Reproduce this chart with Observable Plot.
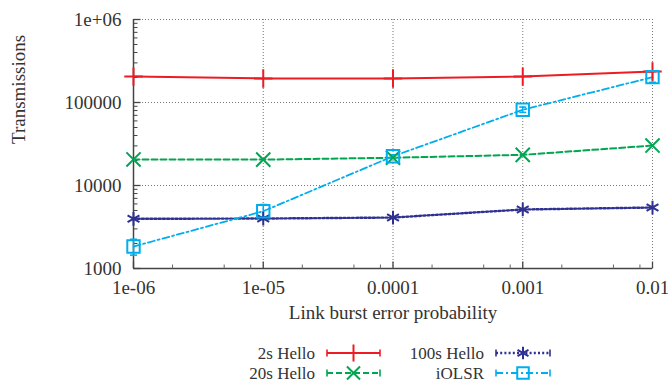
<!DOCTYPE html>
<html>
<head>
<meta charset="utf-8">
<script src="https://cdn.jsdelivr.net/npm/d3@7"></script>
<script src="https://cdn.jsdelivr.net/npm/@observablehq/plot@0.6"></script>
<style>
  body { margin: 0; background: #fff; }
  #chart { width: 668px; font-family: "Liberation Serif", "DejaVu Serif", serif; }
  #chart svg { display: block; }
</style>
</head>
<body>
<div id="chart"></div>
<script>
// Link burst error probabilities (x) and tick labels
const probabilities = [1e-6, 1e-5, 1e-4, 1e-3, 1e-2];
const xTickLabels = ["1e-06", "1e-05", "0.0001", "0.001", "0.01"];
const xMinorFactors = [2, 5, 8];
const yTicks = [1000, 10000, 100000, 1000000];
const yTickLabels = ["1000", "10000", "100000", "1e+06"];

// Transmissions per series
const seriesNames = ["2s Hello", "20s Hello", "100s Hello", "iOLSR"];
const hello2s = [205000, 195000, 195000, 205000, 236000];
const hello20s = [20600, 20500, 21600, 23400, 30300];
const hello100s = [3970, 4000, 4110, 5140, 5430];
const iolsr = [1840, 4900, 22500, 81700, 202000];
const iolsrLow = [1450, 4200, 21600, 76000, 175000];
const iolsrHigh = [2250, 5900, 23500, 88000, 235000];

const seriesValues = [hello2s, hello20s, hello100s, iolsr];
const colors = ["#ed1c24", "#00a651", "#2e3192", "#00aeef"];
const symbols = ["plus", "times", "asterisk", "square"];
const dashes = ["none", "6,3", "2,2.2", "7,3,2,3"];
const widths = [2, 2, 2.4, 1.8];
const radii = [6, 6.5, 6.5, 7];

const rows = seriesNames.flatMap((name, s) =>
  probabilities.map((p, i) => ({series: name, s, p, v: seriesValues[s][i]})));
const errRows = probabilities.map((p, i) => ({p, lo: iolsrLow[i], hi: iolsrHigh[i]}));
const xTickRows = probabilities.map((p, i) => ({p, label: xTickLabels[i]}));
const yTickRows = yTicks.map((v, i) => ({v, label: yTickLabels[i]}));

const yMinor = [];
for (const base of [1000, 10000, 100000]) for (let k = 2; k <= 9; k++) yMinor.push(base * k);
const xMinor = [];
for (const base of [1e-6, 1e-5, 1e-4, 1e-3]) for (const k of xMinorFactors) xMinor.push(base * k);

// small line symbols used for axis ticks and error-bar caps
const tickSym = len => ({draw(ctx) { ctx.moveTo(0, 0); ctx.lineTo(0, -len); }});
const hTickSym = len => ({draw(ctx) { ctx.moveTo(0, 0); ctx.lineTo(len, 0); }});
const capSym = w => ({draw(ctx) { ctx.moveTo(-w, 0); ctx.lineTo(w, 0); }});

const axisColor = "#444";
const textColor = "#333";
const fontSize = 19;
const legendFontSize = 17;

const chart = Plot.plot({
  width: 668,
  height: 330,
  marginLeft: 133,
  marginRight: 16,
  marginTop: 19,
  marginBottom: 62,
  style: {fontFamily: "Liberation Serif, serif", fontSize: fontSize + "px", color: textColor, background: "#fff"},
  x: {type: "log", domain: [1e-6, 1e-2], axis: null},
  y: {type: "log", domain: [1000, 1000000], axis: null},
  marks: [
    Plot.gridX(probabilities, {stroke: "#777", strokeOpacity: 1, strokeDasharray: "1,2"}),
    Plot.gridY(yTicks, {stroke: "#777", strokeOpacity: 1, strokeDasharray: "1,2"}),
    Plot.ruleX([1e-6], {stroke: axisColor, strokeWidth: 1.5}),
    Plot.ruleY([1000], {stroke: axisColor, strokeWidth: 1.5}),
    // inward ticks
    Plot.dot(probabilities, {x: d => d, frameAnchor: "bottom", symbol: tickSym(7), stroke: axisColor, strokeWidth: 1.3, r: 1}),
    Plot.dot(xMinor, {x: d => d, frameAnchor: "bottom", symbol: tickSym(4), stroke: "#666", strokeWidth: 1, r: 1}),
    Plot.dot(yTicks, {y: d => d, frameAnchor: "left", symbol: hTickSym(7), stroke: axisColor, strokeWidth: 1.3, r: 1}),
    Plot.dot(yMinor, {y: d => d, frameAnchor: "left", symbol: hTickSym(4), stroke: axisColor, strokeWidth: 1, r: 1}),
    // tick labels
    Plot.text(xTickRows, {x: "p", text: "label", frameAnchor: "bottom", dy: 25, fill: textColor, fontSize}),
    Plot.text(yTickRows, {y: "v", text: "label", frameAnchor: "left", dx: -12, textAnchor: "end", fill: textColor, fontSize}),
    // axis titles
    Plot.text(["Link burst error probability"], {frameAnchor: "bottom", dy: 50, fill: textColor, fontSize}),
    Plot.text(["Transmissions"], {frameAnchor: "left", dx: -115, rotate: -90, fill: textColor, fontSize}),
    // series lines
    ...seriesNames.map((name, s) =>
      Plot.line(rows.filter(r => r.s === s), {x: "p", y: "v", stroke: colors[s], strokeWidth: widths[s], strokeDasharray: dashes[s]})),
    // iOLSR error bars
    Plot.ruleX(errRows, {x: "p", y1: "lo", y2: "hi", stroke: colors[3], strokeWidth: 1.6}),
    Plot.dot(errRows, {x: "p", y: "lo", symbol: capSym(3.5), stroke: colors[3], strokeWidth: 1.6, r: 1}),
    Plot.dot(errRows, {x: "p", y: "hi", symbol: capSym(3.5), stroke: colors[3], strokeWidth: 1.6, r: 1}),
    // markers
    ...seriesNames.map((name, s) =>
      Plot.dot(rows.filter(r => r.s === s), {x: "p", y: "v", symbol: symbols[s], r: radii[s], stroke: colors[s], strokeWidth: 2, fill: "none"}))
  ]
});
document.getElementById("chart").appendChild(chart);

// Legend: two columns, label right-aligned before a line sample with marker
const legendLayout = [
  {textRight: 315, x1: 327, x2: 380, row: 0},
  {textRight: 315, x1: 327, x2: 380, row: 1},
  {textRight: 484, x1: 496, x2: 550, row: 0},
  {textRight: 484, x1: 496, x2: 550, row: 1}
];
const legendOrder = [0, 1, 2, 3];
const legend = d3.create("svg").attr("width", 668).attr("height", 53)
  .style("font-family", "Liberation Serif, serif").style("font-size", legendFontSize + "px");
const d3Symbols = {plus: d3.symbolPlus, times: d3.symbolTimes, asterisk: d3.symbolAsterisk, square: d3.symbolSquare};
legendOrder.forEach((s, k) => {
  const L = legendLayout[k];
  const cy = 23 + L.row * 20;
  const g = legend.append("g");
  g.append("text").attr("x", L.textRight).attr("y", cy).attr("text-anchor", "end")
    .attr("dominant-baseline", "central").attr("fill", textColor).text(seriesNames[s]);
  g.append("line").attr("x1", L.x1).attr("x2", L.x2).attr("y1", cy).attr("y2", cy)
    .attr("stroke", colors[s]).attr("stroke-width", widths[s]).attr("stroke-dasharray", dashes[s]);
  for (const ex of [L.x1, L.x2])
    g.append("line").attr("x1", ex).attr("x2", ex).attr("y1", cy - 3.5).attr("y2", cy + 3.5)
      .attr("stroke", colors[s]).attr("stroke-width", 1.6);
  const r = radii[s] - 0.5;
  g.append("path").attr("transform", `translate(${(L.x1 + L.x2) / 2},${cy})`)
    .attr("d", d3.symbol(d3Symbols[symbols[s]], Math.PI * r * r)())
    .attr("fill", "none").attr("stroke", colors[s]).attr("stroke-width", 2);
});
document.getElementById("chart").appendChild(legend.node());
</script>
</body>
</html>
